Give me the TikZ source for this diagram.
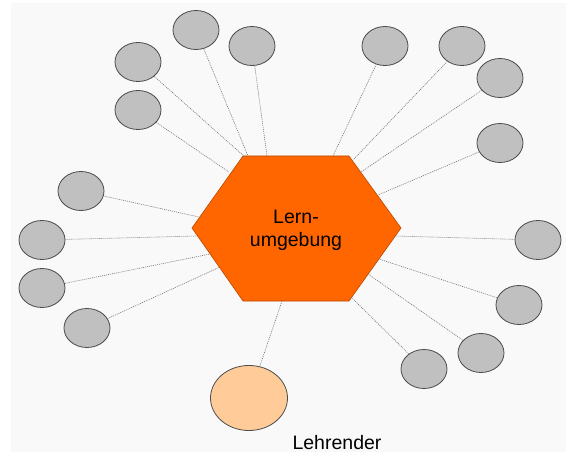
\documentclass[tikz,border=0pt]{standalone}
\usepackage{fontspec}
\setmainfont{Liberation Sans}
\usetikzlibrary{shapes.geometric}
\definecolor{lernorange}{HTML}{FF6600}
\definecolor{lernedge}{HTML}{B84800}
\definecolor{bubblegray}{HTML}{C0C0C0}
\definecolor{peach}{HTML}{FFCC99}
\definecolor{paper}{HTML}{F9F9F9}

\begin{document}
\begin{tikzpicture}[x=1pt,y=-1pt]
\tikzstyle{bubble}=[draw=black!70,fill=bubblegray,ellipse,minimum width=46pt,minimum height=39pt,inner sep=0pt,line width=0.8pt];
\tikzstyle{link}=[draw=black!55,line width=0.6pt,dash pattern=on 1pt off 1pt];
\tikzstyle{label}=[inner sep=0pt,font=\fontsize{19.5}{23}\selectfont];
\useasboundingbox (0,0) rectangle (566,452);
\fill[white] (0,0) rectangle (566,452);
\fill[paper] (11,3) rectangle (566,452);

% Lernumgebung
\draw[fill=lernorange,draw=lernedge,line width=0.6pt]
  (192,228) -- (243,156) -- (349,156) -- (401,228) -- (349,301) -- (243,301) -- cycle;
\node[label,align=center] (lern) at (296,230) {Lern-\\umgebung};

% ends on the border of the hexagon
\coordinate (e1) at (229,172);
\coordinate (e2) at (245,157);
\coordinate (e3) at (248,156);
\coordinate (e4) at (267,156);
\coordinate (e5) at (333,156);
\coordinate (e6) at (353,160);
\coordinate (e7) at (361,172);
\coordinate (e8) at (378,195);
\coordinate (e9) at (395,236);
\coordinate (e10) at (379,259);
\coordinate (e11) at (368,274);
\coordinate (e12) at (351,297);
\coordinate (e13) at (220,267);
\coordinate (e14) at (210,254);
\coordinate (e15) at (197,236);
\coordinate (e16) at (199,217);
\coordinate (e17) at (282,301);

% Lernende
\node[bubble] (b1) at (138,110) {};
\node[bubble] (b2) at (138,62) {};
\node[bubble] (b3) at (196,30) {};
\node[bubble] (b4) at (252,46) {};
\node[bubble] (b5) at (385,46) {};
\node[bubble] (b6) at (462,46) {};
\node[bubble] (b7) at (500,78) {};
\node[bubble] (b8) at (500,143) {};
\node[bubble] (b9) at (538,240) {};
\node[bubble] (b10) at (519,305) {};
\node[bubble] (b11) at (481,353) {};
\node[bubble] (b12) at (424,369) {};
\node[bubble] (b13) at (87,328) {};
\node[bubble] (b14) at (42,288) {};
\node[bubble] (b15) at (42,240) {};
\node[bubble] (b16) at (81,191) {};

% Lehrender
\node[ellipse,draw=black!70,fill=peach,minimum width=77pt,minimum height=65pt,inner sep=0pt,line width=0.8pt] (b17) at (249,398) {};
\node[label,anchor=base] (lehrender) at (337,449) {Lehrender};

\foreach \i in {1,...,17}
  \draw[link] (b\i) -- (e\i);
\end{tikzpicture}
\end{document}
